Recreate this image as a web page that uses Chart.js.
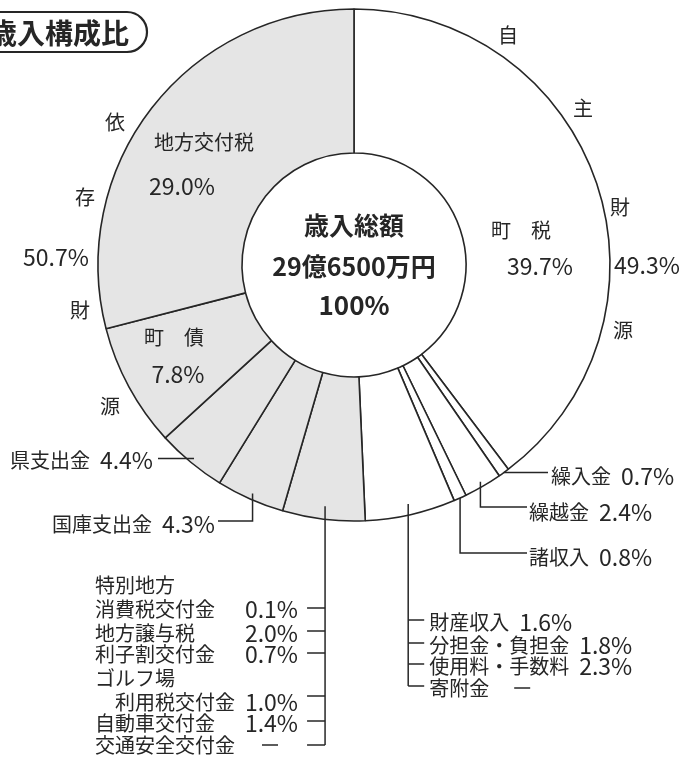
<!DOCTYPE html>
<html><head><meta charset="utf-8">
<script src="https://cdn.jsdelivr.net/npm/chart.js@4.4.1/dist/chart.umd.min.js"></script>
<style>html,body{margin:0;padding:0;background:#fff;}canvas{display:block;}</style>
</head><body>
<canvas id="c" width="679" height="757"></canvas>
<script>
// ---- data (percent of total revenue) ----
const selfLabels = ['町税', '繰入金', '繰越金', '諸収入'];
const selfValues = [39.7, 0.7, 2.4, 0.8];
const propertyLabels = ['財産収入', '分担金・負担金', '使用料・手数料', '寄附金'];
const propertyValues = [1.6, 1.8, 2.3, 0];
const grantLabels = ['特別地方消費税交付金', '地方譲与税', '利子割交付金', 'ゴルフ場利用税交付金', '自動車交付金', '交通安全交付金'];
const grantValues = [0.1, 2.0, 0.7, 1.0, 1.4, 0];
const dependLabels = ['国庫支出金', '県支出金', '町債', '地方交付税'];
const dependValues = [4.3, 4.4, 7.8, 29.0];
const totalText = '29億6500万円';

const sum = a => a.reduce((s, v) => s + v, 0);
const pct = v => v.toFixed(1) + '%';

const sliceLabels = [...selfLabels, '財産収入等', '交付金等', ...dependLabels];
const sliceValues = [...selfValues, sum(propertyValues), sum(grantValues), ...dependValues];
const selfTotal = sum(selfValues) + sum(propertyValues);
const dependTotal = sum(grantValues) + sum(dependValues);
const WHITE = '#ffffff', GRAY = '#e5e5e5', INK = '#262626';
const sliceColors = sliceValues.map((v, i) => i < selfLabels.length + 1 ? WHITE : GRAY);

const CJK = '20px "Noto Sans CJK JP"';
const NUM = '23px "Noto Sans CJK JP"';

const annot = {
  id: 'annot',
  afterDatasetsDraw(chart) {
    const ctx = chart.ctx;
    const arcs = chart.getDatasetMeta(0).data;
    const cx = arcs[0].x, cy = arcs[0].y, R = arcs[0].outerRadius;
    const edge = (i, inset) => {
      const a = arcs[i]; const m = (a.startAngle + a.endAngle) / 2;
      return { x: cx + (R - inset) * Math.cos(m), y: cy + (R - inset) * Math.sin(m) };
    };
    ctx.save();
    ctx.fillStyle = INK; ctx.strokeStyle = INK; ctx.lineWidth = 1.5;
    ctx.textBaseline = 'middle';
    // mixed text: CJK runs at 20px, ASCII runs (numbers) at 23px, spaces as fixed gaps
    const split = s => {
      const out = [];
      for (const ch of s) {
        const type = ch === ' ' ? 'sp' : (/[\x21-\x7E]/.test(ch) ? 'num' : 'cjk');
        if (out.length && out[out.length - 1].type === type) out[out.length - 1].t += ch;
        else out.push({ type, t: ch });
      }
      return out.map(r => {
        if (r.type === 'sp') return { ...r, w: 10 * r.t.length };
        ctx.font = r.type === 'num' ? NUM : CJK;
        return { ...r, w: ctx.measureText(r.t).width };
      });
    };
    const text = (s, x, y, align = 'center') => {
      const rs = split(s);
      const W = rs.reduce((a, r) => a + r.w, 0);
      let xx = align === 'left' ? x : align === 'right' ? x - W : x - W / 2;
      ctx.textAlign = 'left';
      rs.forEach(r => {
        if (r.type !== 'sp') { ctx.font = r.type === 'num' ? NUM : CJK; ctx.fillText(r.t, xx, y); }
        xx += r.w;
      });
    };
    const plain = (s, x, y, align, font) => { ctx.font = font; ctx.textAlign = align; ctx.fillText(s, x, y); };
    const line = pts => { ctx.beginPath(); ctx.moveTo(pts[0][0], pts[0][1]); for (let k = 1; k < pts.length; k++) ctx.lineTo(pts[k][0], pts[k][1]); ctx.stroke(); };
    const dash = (x, y) => line([[x - 8, y], [x + 8, y]]);

    // title box
    ctx.lineWidth = 2.2;
    ctx.beginPath(); ctx.roundRect(-30, 12, 177, 40, 20); ctx.stroke();
    plain('歳入構成比', -11, 33, 'left', 'bold 28px "Noto Sans CJK JP"');
    ctx.lineWidth = 1.5;

    // center text
    const CF = 'bold 25px "Noto Sans CJK JP"';
    plain('歳入総額', cx, cy - 40, 'center', CF);
    plain(totalText, cx, cy + 1, 'center', CF);
    plain('100%', cx, cy + 40, 'center', 'bold 26px "Noto Sans CJK JP"');

    // group labels
    text('自', 508, 35); text('主', 583, 108); text('財', 620, 207);
    text(pct(selfTotal), 647, 265); text('源', 623, 330);
    text('依', 115, 122); text('存', 85, 197); text(pct(dependTotal), 56, 257);
    text('財', 80, 310); text('源', 110, 406);

    // inner labels
    text('地方交付税', 204, 142); text(pct(dependValues[3]), 182, 186);
    text('町　債', 174, 337); text(pct(dependValues[2]), 178, 374);
    text('町　税', 521, 230); text(pct(selfValues[0]), 540, 266);

    // 繰入金
    let p = edge(1, 0);
    line([[p.x, p.y], [548, p.y]]);
    text(selfLabels[1] + ' ' + pct(selfValues[1]), 551, p.y + 4, 'left');
    // 繰越金
    p = edge(2, 5);
    line([[p.x, p.y], [p.x, 507], [527, 507]]);
    text(selfLabels[2] + ' ' + pct(selfValues[2]), 529, 512, 'left');
    // 諸収入
    p = edge(3, 0);
    line([[p.x, p.y], [p.x, 553], [527, 553]]);
    text(selfLabels[3] + ' ' + pct(selfValues[3]), 529, 557, 'left');
    // property group
    p = edge(4, 11);
    const pys = [620, 643, 664, 686];
    line([[p.x, p.y], [p.x, pys[3]]]);
    propertyLabels.forEach((l, k) => {
      line([[p.x, pys[k]], [p.x + 16, pys[k]]]);
      if (propertyValues[k] === 0) { text(l, p.x + 21, pys[k] + 2, 'left'); dash(p.x + 114, pys[k] + 2); }
      else text(l + ' ' + pct(propertyValues[k]), p.x + 21, pys[k] + 2, 'left');
    });
    // grant group
    p = edge(5, 13);
    const gys = [608, 631, 653, 696, 721, 745];
    const gty = [609, 633, 654, 702, 723, 745];
    line([[p.x, p.y], [p.x, gys[5]]]);
    const gnames = [['特別地方', '消費税交付金'], ['地方譲与税'], ['利子割交付金'], ['ゴルフ場', '　利用税交付金'], ['自動車交付金'], ['交通安全交付金']];
    gys.forEach((y, k) => {
      line([[p.x - 18, y], [p.x, y]]);
      const n = gnames[k], ty = gty[k];
      if (n.length === 2) text(n[0], 95, ty - 24, 'left');
      text(n[n.length - 1], 95, ty, 'left');
      if (grantValues[k] === 0) dash(270, ty);
      else text(pct(grantValues[k]), 298, ty, 'right');
    });
    // 国庫支出金
    p = edge(6, 6);
    line([[p.x, p.y], [p.x, 521], [218, 521]]);
    text(dependLabels[0] + ' ' + pct(dependValues[0]), 215, 524, 'right');
    // 県支出金
    p = edge(7, 5);
    line([[p.x, p.y], [158, p.y]]);
    text(dependLabels[1] + ' ' + pct(dependValues[1]), 153, p.y + 2, 'right');

    ctx.restore();
  }
};

new Chart(document.getElementById('c'), {
  type: 'doughnut',
  data: {
    labels: sliceLabels,
    datasets: [{
      data: sliceValues,
      backgroundColor: sliceColors,
      borderColor: INK,
      borderWidth: 1.6
    }]
  },
  options: {
    responsive: false,
    animation: false,
    radius: 256,
    cutout: '43.75%',
    layout: { padding: { left: 29, right: 0, top: 0, bottom: 227 } },
    plugins: { legend: { display: false }, tooltip: { enabled: false } },
    events: []
  },
  plugins: [annot]
});
</script>
</body></html>
